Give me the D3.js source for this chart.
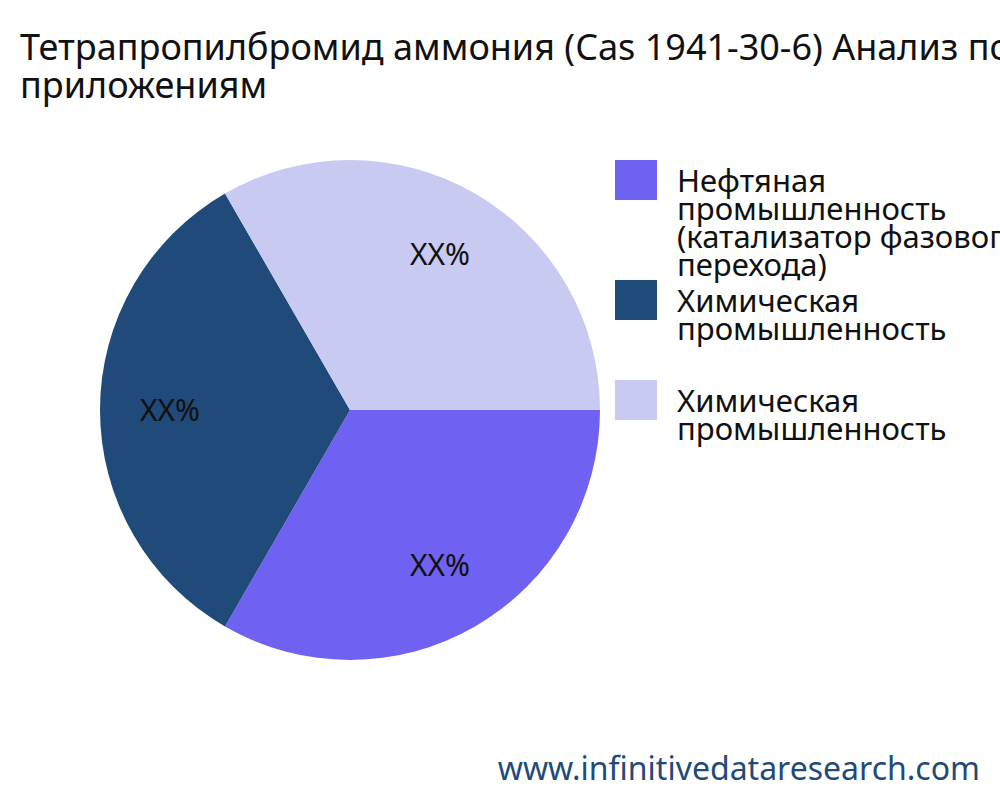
<!DOCTYPE html>
<html><head><meta charset="utf-8">
<script src="https://cdn.jsdelivr.net/npm/d3@7"></script>
<style>body{margin:0;background:#fff}text{font-family:"Noto Sans","Open Sans",sans-serif}</style>
</head><body>
<svg width="1000" height="800"></svg>
<script>
const categories = ["Нефтяная промышленность (катализатор фазового перехода)", "Химическая промышленность", "Химическая промышленность"];
const legendLines = [["Нефтяная", "промышленность", "(катализатор фазового", "перехода)"], ["Химическая", "промышленность"], ["Химическая", "промышленность"]];
const values = [1, 1, 1];
const labels = ["XX%", "XX%", "XX%"];
const colors = ["#6f61f1", "#1f4a7a", "#c9caf2"];
const titleLines = ["Тетрапропилбромид аммония (Cas 1941-30-6) Анализ по", "приложениям"];

const svg = d3.select("svg");
svg.append("text").attr("x", 20).attr("y", 60).attr("font-size", 36).attr("fill", "#111")
  .selectAll("tspan").data(titleLines).enter().append("tspan")
  .attr("x", 20).attr("dy", (d, i) => i ? 38 : 0).text(d => d);

const r = 250;
const g = svg.append("g").attr("transform", "translate(350,410)");
const pie = d3.pie().value(d => d).sort(null).startAngle(Math.PI / 2).endAngle(Math.PI / 2 + 2 * Math.PI);
const arcs = pie(values);
const arc = d3.arc().innerRadius(0).outerRadius(r);
const labelArc = d3.arc().innerRadius(r * 0.72).outerRadius(r * 0.72);
g.selectAll("path").data(arcs).enter().append("path").attr("d", arc).attr("fill", (d, i) => colors[i]);
g.selectAll("text.l").data(arcs).enter().append("text")
  .attr("transform", d => `translate(${labelArc.centroid(d)})`)
  .attr("text-anchor", "middle").attr("dy", "0.35em").attr("font-size", 30).attr("fill", "#111")
  .text((d, i) => labels[i]);

const lg = svg.append("g").selectAll("g").data(categories).enter().append("g")
  .attr("transform", (d, i) => `translate(615,${[160, 280, 380][i]})`);
lg.append("rect").attr("width", 42).attr("height", 40).attr("fill", (d, i) => colors[i]);
lg.append("text").attr("font-size", 31).attr("fill", "#111").attr("y", 32)
  .selectAll("tspan").data((d, i) => legendLines[i]).enter().append("tspan")
  .attr("x", 62).attr("dy", (d, i) => i ? 28 : 0).text(d => d);

svg.append("text").attr("x", 980).attr("y", 780).attr("text-anchor", "end")
  .attr("font-size", 32).attr("fill", "#1f4a7a").text("www.infinitivedataresearch.com");
</script>
</body></html>
